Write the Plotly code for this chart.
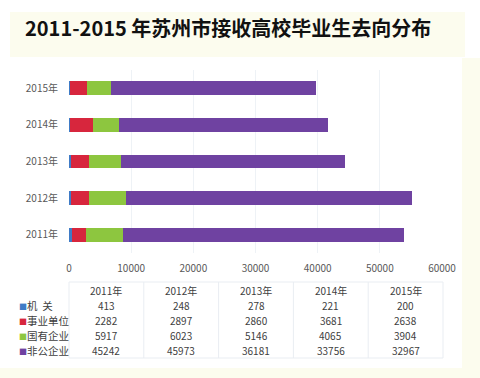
import plotly.graph_objects as go

years = ["2011年", "2012年", "2013年", "2014年", "2015年"]
series_names = ["机  关", "事业单位", "国有企业", "非公企业"]
jiguan = [413, 248, 278, 221, 200]
shiye = [2282, 2897, 2860, 3681, 2638]
guoyou = [5917, 6023, 5146, 4065, 3904]
feigong = [45242, 45973, 36181, 33756, 32967]
x_ticks = [0, 10000, 20000, 30000, 40000, 50000, 60000]
title_text = "2011-2015 年苏州市接收高校毕业生去向分布"

colors = ["#3f7bc6", "#d7263d", "#8dc63f", "#6f42a1"]
series = [jiguan, shiye, guoyou, feigong]

W, H = 480, 378
L, R, T, B = 69, 38, 70, 125
PW, PH = W - L - R, H - T - B

def px(x):
    return (x - L) / PW

def py(y):
    return (H - B - y) / PH

FONT = "Noto Sans CJK SC, Noto Sans, sans-serif"
CREAM = "#fcfcee"

fig = go.Figure()
for name, vals, c in zip(series_names, series, colors):
    fig.add_trace(go.Bar(y=years, x=vals, name=name, orientation="h",
                         marker=dict(color=c, line=dict(width=0)), showlegend=False))

fig.update_layout(
    width=W, height=H, barmode="stack", bargap=0.62,
    margin=dict(l=L, r=R, t=T, b=B, pad=0),
    paper_bgcolor="white", plot_bgcolor="rgba(0,0,0,0)",
    font=dict(family=FONT, size=10, color="#595959"),
    xaxis=dict(range=[0, 60000], tickvals=x_ticks, ticktext=[str(v) for v in x_ticks],
               showgrid=True, gridcolor="#eef2f6", gridwidth=1, zeroline=False,
               showline=False, ticks="outside", ticklen=6, tickcolor="rgba(0,0,0,0)",
               tickfont=dict(size=10, color="#595959"), automargin=False),
    yaxis=dict(showgrid=False, zeroline=False, showline=False, ticks="outside",
               ticklen=8, tickcolor="rgba(0,0,0,0)",
               tickfont=dict(size=10, color="#595959"), automargin=False),
)

shapes = []
# cream background pieces
shapes.append(dict(type="rect", xref="paper", yref="paper", x0=px(10), x1=px(465),
                   y0=py(57), y1=py(12), fillcolor=CREAM, line=dict(width=0), layer="below"))
shapes.append(dict(type="rect", xref="paper", yref="paper", x0=px(462), x1=px(480),
                   y0=py(378), y1=py(58), fillcolor=CREAM, line=dict(width=0), layer="below"))
shapes.append(dict(type="rect", xref="paper", yref="paper", x0=px(0), x1=px(480),
                   y0=py(378), y1=py(368), fillcolor=CREAM, line=dict(width=0), layer="below"))

# table grid
tbl_left, tbl_right = 69, 443
tbl_top, tbl_bot = 282, 358
ncol = len(years)
colw = (tbl_right - tbl_left) / ncol
gcol = "#e9edf2"
for i in range(ncol + 1):
    xx = tbl_left + i * colw
    shapes.append(dict(type="line", xref="paper", yref="paper", x0=px(xx), x1=px(xx),
                       y0=py(tbl_bot), y1=py(tbl_top), line=dict(color=gcol, width=1)))
shapes.append(dict(type="line", xref="paper", yref="paper", x0=px(tbl_left), x1=px(tbl_right),
                   y0=py(tbl_top), y1=py(tbl_top), line=dict(color=gcol, width=1)))
shapes.append(dict(type="line", xref="paper", yref="paper", x0=px(tbl_left), x1=px(tbl_right),
                   y0=py(tbl_bot), y1=py(tbl_bot), line=dict(color=gcol, width=1)))

ann = []
ann.append(dict(text="<b>" + title_text + "</b>", xref="paper", yref="paper",
                x=px(228), y=py(28), showarrow=False, xanchor="center", yanchor="middle",
                font=dict(family=FONT, size=20, color="#111111")))

row_y = [305.5, 320.5, 335.5, 350.5]
header_y = 290
for j, yr in enumerate(years):
    cx = tbl_left + (j + 0.5) * colw
    ann.append(dict(text=yr, xref="paper", yref="paper", x=px(cx), y=py(header_y),
                    showarrow=False, xanchor="center", yanchor="middle",
                    font=dict(family=FONT, size=10, color="#404040")))
    for k, vals in enumerate(series):
        ann.append(dict(text=str(vals[j]), xref="paper", yref="paper", x=px(cx), y=py(row_y[k]),
                        showarrow=False, xanchor="center", yanchor="middle",
                        font=dict(family=FONT, size=10, color="#404040")))

for k, (name, c) in enumerate(zip(series_names, colors)):
    ann.append(dict(text="<span style='color:%s;font-size:8px'>■</span>%s" % (c, name), xref="paper", yref="paper",
                    x=px(17), y=py(row_y[k]), showarrow=False, xanchor="left", yanchor="middle",
                    font=dict(family=FONT, size=10.5, color="#404040")))

fig.update_layout(shapes=shapes, annotations=ann)
fig.write_html("out.html", config={"displayModeBar": False},
               post_script="document.body.style.margin='0';document.body.style.padding='0';")
